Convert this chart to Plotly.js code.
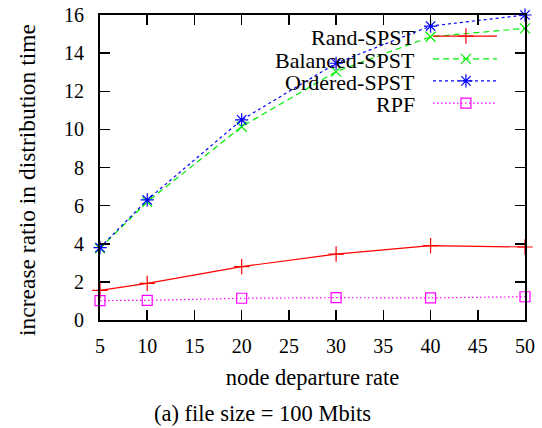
<!DOCTYPE html>
<html>
<head>
<meta charset="utf-8">
<script src="https://cdn.plot.ly/plotly-3.0.1.min.js"></script>
<style>html,body{margin:0;padding:0;background:#fff;}#chart{width:542px;height:428px;}</style>
</head>
<body>
<div id="chart"></div>
<script>
const rates = [5, 10, 20, 30, 40, 50];
const randSPST = [1.55, 1.92, 2.8, 3.46, 3.9, 3.83];
const balancedSPST = [3.76, 6.2, 10.14, 13.03, 14.86, 15.3];
const orderedSPST = [3.8, 6.3, 10.5, 13.47, 15.42, 16.0];
const rpf = [1.02, 1.03, 1.14, 1.17, 1.16, 1.22];
const seriesNames = ['Rand-SPST', 'Balanced-SPST', 'Ordered-SPST', 'RPF'];
const xTicks = [5, 10, 15, 20, 25, 30, 35, 40, 45, 50];
const yTicks = [0, 2, 4, 6, 8, 10, 12, 14, 16];

const FONT = 'Liberation Serif';
const styles = [
  {color: '#ff0000', dash: 'solid', symbol: 'cross-thin-open', size: 11},
  {color: '#00ee00', dash: '6px,4px', symbol: 'x-thin-open', size: 10},
  {color: '#0000ff', dash: '3px,3px', symbol: 'asterisk-open', size: 11},
  {color: '#ff00ff', dash: '1.5px,2.5px', symbol: 'square-open', size: 10}
];
const allSeries = [randSPST, balancedSPST, orderedSPST, rpf];

const traces = allSeries.map((ys, i) => ({
  x: rates, y: ys, type: 'scatter', mode: 'lines+markers', name: seriesNames[i],
  line: {color: styles[i].color, width: 1.2, dash: styles[i].dash},
  marker: {symbol: styles[i].symbol, size: styles[i].size, color: styles[i].color,
           line: {color: styles[i].color, width: 1.2}},
  cliponaxis: false, showlegend: false
}));

const legY = [0.931, 0.856, 0.784, 0.711];
const legX0 = 0.7835, legX1 = 0.934, legXm = 0.861;
seriesNames.forEach((n, i) => {
  traces.push({
    x: [legX0, legX1], y: [legY[i], legY[i]], xaxis: 'x2', yaxis: 'y2', type: 'scatter', mode: 'lines',
    line: {color: styles[i].color, width: 1.2, dash: styles[i].dash}, showlegend: false, hoverinfo: 'skip'
  });
  traces.push({
    x: [legXm], y: [legY[i]], xaxis: 'x2', yaxis: 'y2', type: 'scatter', mode: 'markers',
    marker: {symbol: styles[i].symbol, size: styles[i].size, color: styles[i].color,
             line: {color: styles[i].color, width: 1.2}},
    showlegend: false, hoverinfo: 'skip', cliponaxis: false
  });
});

const annotations = seriesNames.map((n, i) => ({
  text: n, xref: 'paper', yref: 'paper', x: 0.746, y: legY[i] - 0.004,
  xanchor: 'right', yanchor: 'middle', showarrow: false,
  font: {family: FONT, size: 22, color: '#000'}
}));
annotations.push({
  text: 'increase ratio in distribution time', xref: 'paper', yref: 'paper', x: -0.1718, y: 0.459,
  xanchor: 'center', yanchor: 'middle', textangle: -90, showarrow: false,
  font: {family: FONT, size: 23.5, color: '#000'}
});
annotations.push({
  text: '(a) file size = 100 Mbits', xref: 'paper', yref: 'paper', x: 0.382, y: -0.305,
  xanchor: 'center', yanchor: 'middle', showarrow: false,
  font: {family: FONT, size: 22.5, color: '#000'}
});

const layout = {
  width: 542, height: 428,
  margin: {l: 100, r: 17, t: 15, b: 108},
  paper_bgcolor: '#fff', plot_bgcolor: '#fff',
  showlegend: false,
  font: {family: FONT, color: '#000'},
  xaxis: {
    range: [5, 50], tickvals: xTicks, ticktext: xTicks.map(String),
    showgrid: false, zeroline: false, showline: true, linecolor: '#000', linewidth: 2,
    mirror: 'ticks', ticks: 'inside', ticklen: 10, tickwidth: 1.5, tickcolor: '#000',
    tickfont: {family: FONT, size: 20}, ticklabelstandoff: 7,
    title: {text: 'node departure rate', font: {family: FONT, size: 22.5}, standoff: 13}
  },
  yaxis: {
    range: [0, 16], tickvals: yTicks, ticktext: yTicks.map(String),
    showgrid: false, zeroline: false, showline: true, linecolor: '#000', linewidth: 2,
    mirror: 'ticks', ticks: 'inside', ticklen: 10, tickwidth: 1.5, tickcolor: '#000',
    tickfont: {family: FONT, size: 20}, ticklabelstandoff: 10
  },
  xaxis2: {overlaying: 'x', range: [0, 1], visible: false, fixedrange: true},
  yaxis2: {overlaying: 'y', range: [0, 1], visible: false, fixedrange: true},
  annotations: annotations
};

Plotly.newPlot('chart', traces, layout, {displayModeBar: false, staticPlot: true});
</script>
</body>
</html>
